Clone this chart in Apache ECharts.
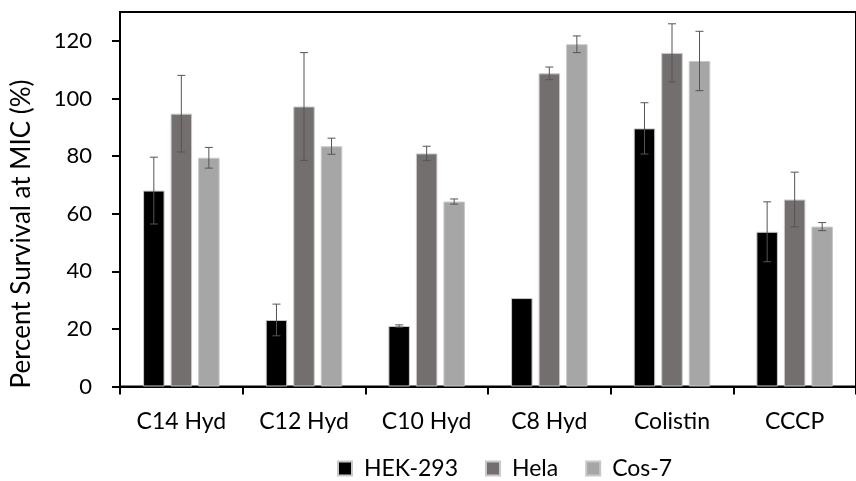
<!DOCTYPE html>
<html>
<head>
<meta charset="utf-8">
<script src="https://cdn.jsdelivr.net/npm/echarts@6/dist/echarts.min.js"></script>
<style>
  html, body { margin: 0; padding: 0; background: #fff; }
  #chart { width: 856px; height: 481px; }
</style>
</head>
<body>
<div id="chart"></div>
<script>
// Compounds tested
const categories = ['C14 Hyd', 'C12 Hyd', 'C10 Hyd', 'C8 Hyd', 'Colistin', 'CCCP'];

// Cell lines
const seriesNames = ['HEK-293', 'Hela', 'Cos-7'];

// Mean percent survival at MIC
const hek293 = [68.0, 23.1, 21.0, 30.7, 89.6, 53.7];
const hela   = [94.7, 97.2, 80.9, 108.7, 115.8, 64.9];
const cos7   = [79.4, 83.4, 64.2, 118.8, 113.0, 55.5];

// Error (± value)
const hek293Err = [11.6, 5.5, 0.4, 0.0, 8.9, 10.4];
const helaErr   = [13.3, 18.7, 2.5, 2.2, 10.1, 9.5];
const cos7Err   = [3.6, 2.8, 0.9, 2.9, 10.3, 1.4];

// Y-axis ticks
const yTicks = [0, 20, 40, 60, 80, 100, 120];

const colors = ['#000000', '#736f6e', '#a6a6a6'];
const FONT = 'Lato';
const BAR_W = 21.5;
const GAP_RATIO = 0.28;
const step = BAR_W * (1 + GAP_RATIO);
const offsets = [-step, 0, step];

const values = [hek293, hela, cos7];
const errors = [hek293Err, helaErr, cos7Err];

function errorSeries(idx) {
  return {
    type: 'custom',
    name: seriesNames[idx] + ' error',
    z: 5,
    silent: true,
    data: values[idx].map((v, i) => [i, v, errors[idx][i]]),
    renderItem: function (params, api) {
      const ci = api.value(0), v = api.value(1), e = api.value(2);
      if (!(e > 0)) return null;
      const hi = api.coord([ci, v + e]);
      const lo = api.coord([ci, v - e]);
      const x = hi[0] + offsets[idx];
      const cap = 4;
      const st = { stroke: '#555555', lineWidth: 1 };
      return {
        type: 'group',
        children: [
          { type: 'line', shape: { x1: x, y1: hi[1], x2: x, y2: lo[1] }, style: st },
          { type: 'line', shape: { x1: x - cap, y1: hi[1], x2: x + cap, y2: hi[1] }, style: st },
          { type: 'line', shape: { x1: x - cap, y1: lo[1], x2: x + cap, y2: lo[1] }, style: st }
        ]
      };
    }
  };
}

const barSeries = values.map((vals, idx) => ({
  type: 'bar',
  name: seriesNames[idx],
  data: vals,
  barWidth: BAR_W,
  barGap: (GAP_RATIO * 100) + '%',
  itemStyle: { color: colors[idx], borderColor: '#c8c8c8', borderWidth: 1 },
  z: 2
}));

const chart = echarts.init(document.getElementById('chart'), null, { renderer: 'canvas' });
chart.setOption({
  animation: false,
  backgroundColor: '#ffffff',
  grid: {
    left: 120, top: 12, right: -8, bottom: 94.5,
    show: true, borderColor: '#000', borderWidth: 2, backgroundColor: 'transparent'
  },
  legend: {
    data: seriesNames,
    top: 457,
    left: 337,
    padding: 0,
    icon: 'rect',
    itemWidth: 14,
    itemHeight: 14,
    itemGap: 27,
    textStyle: { fontFamily: FONT, fontSize: 23, color: '#000', padding: [0, 0, 0, 7] }
  },
  xAxis: {
    type: 'category',
    data: categories,
    boundaryGap: true,
    axisLine: { lineStyle: { color: '#000', width: 2 } },
    axisTick: { show: true, length: 8, lineStyle: { color: '#000', width: 2 } },
    axisLabel: { fontFamily: FONT, fontSize: 23, color: '#000', margin: 24 }
  },
  yAxis: {
    type: 'value',
    min: 0,
    max: 130,
    interval: 20,
    splitLine: { show: false },
    axisLine: { show: true, lineStyle: { color: '#000', width: 2 } },
    axisTick: { show: true, length: 8, customValues: yTicks, lineStyle: { color: '#000', width: 2 } },
    axisLabel: { fontFamily: FONT, fontSize: 22, color: '#000', margin: 28, customValues: yTicks }
  },
  graphic: [{
    type: 'text',
    x: 22,
    y: 234,
    rotation: Math.PI / 2,
    style: {
      text: 'Percent Survival at MIC (%)',
      font: '26px ' + FONT,
      fill: '#000',
      align: 'center',
      verticalAlign: 'middle'
    }
  }],
  series: barSeries.concat([0, 1, 2].map(errorSeries))
});
</script>
</body>
</html>
